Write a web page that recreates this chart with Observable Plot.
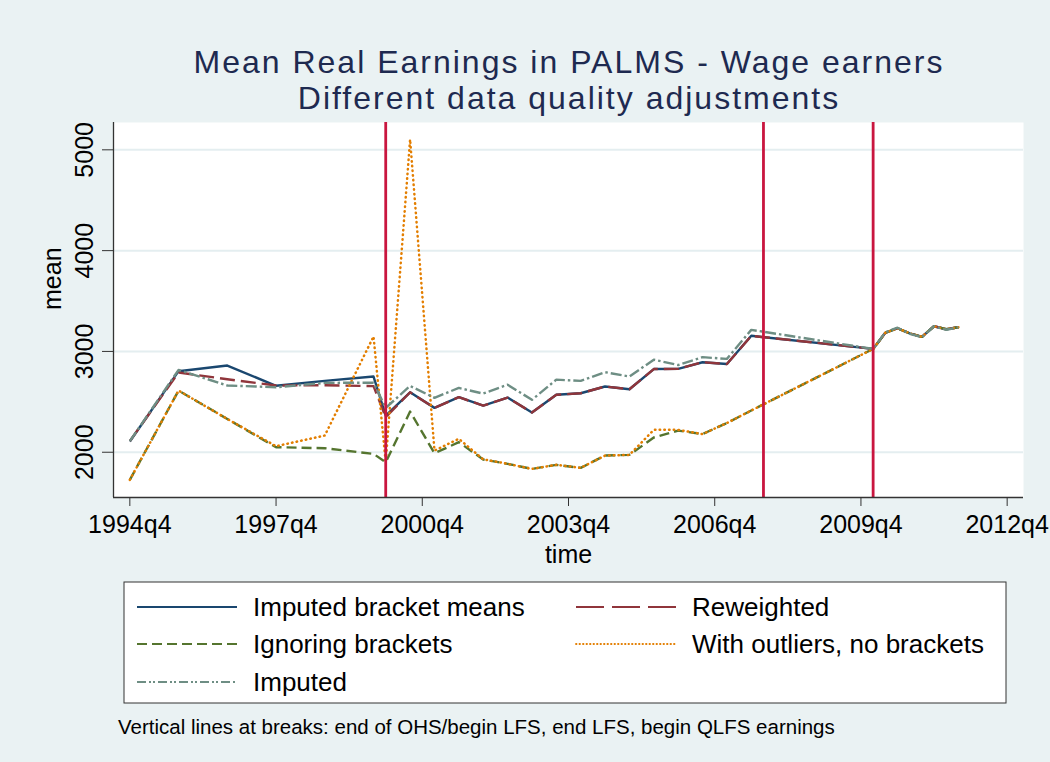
<!DOCTYPE html>
<html>
<head>
<meta charset="utf-8">
<script src="https://cdn.jsdelivr.net/npm/d3@7"></script>
<script src="https://cdn.jsdelivr.net/npm/@observablehq/plot@0.6"></script>
<style>
  html, body { margin: 0; padding: 0; background: #EAF2F3; }
  #wrap { position: relative; width: 1050px; height: 762px; overflow: hidden; background: #EAF2F3;
          font-family: "Liberation Sans", Arial, sans-serif; }
  .title { position: absolute; left: 0; width: 1138px; text-align: center; font-size: 32px;
           letter-spacing: 2px; line-height: 36px; color: #1E2A50; white-space: nowrap; }
  #plot { position: absolute; left: 0; top: 110px; }
  #legend { position: absolute; left: 0; top: 0; }
</style>
</head>
<body>
<div id="wrap">
  <div class="title" style="top:44px">Mean Real Earnings in PALMS - Wage earners</div>
  <div class="title" style="top:80px">Different data quality adjustments</div>
  <div id="plot"></div>
  <svg id="legend" width="1050" height="762"></svg>
</div>
<script>
// ---------------- data ----------------
const times = ["1994q4","1995q4","1996q4","1997q4","1998q4","1999q4","2000q1","2000q3","2001q1","2001q3",
               "2002q1","2002q3","2003q1","2003q3","2004q1","2004q3","2005q1","2005q3","2006q1","2006q3",
               "2007q1","2007q3","2010q1","2010q2","2010q3","2010q4","2011q1","2011q2","2011q3","2011q4"];

const imputedBracketMeans = [2106,2804,2860,2659,2708,2751,2364,2595,2440,2546,
                             2462,2542,2394,2570,2585,2652,2625,2825,2827,2893,
                             2875,3155,3025,3185,3230,3180,3145,3250,3220,3240];
const reweighted          = [2110,2791,2724,2662,2665,2656,2347,2595,2440,2546,
                             2462,2542,2394,2570,2585,2652,2625,2825,2827,2893,
                             2875,3155,3025,3185,3230,3180,3145,3250,3220,3240];
const ignoringBrackets    = [1726,2612,2330,2050,2040,1984,1900,2404,1990,2100,
                             1928,1885,1835,1875,1845,1967,1974,2146,2215,2180,
                             2290,2414,3025,3185,3230,3180,3145,3250,3220,3240];
const withOutliers        = [1726,2612,2330,2060,2166,3148,1900,5102,2017,2133,
                             1930,1885,1835,1875,1845,1967,1974,2222,2222,2180,
                             2290,2414,3025,3185,3230,3180,3145,3250,3220,3240];
const imputed             = [2110,2817,2662,2645,2688,2690,2440,2658,2540,2638,
                             2582,2670,2520,2720,2708,2794,2751,2918,2865,2943,
                             2926,3214,3025,3190,3235,3175,3140,3250,3215,3240];

const seriesNames = ["Imputed bracket means","Reweighted","Ignoring brackets","With outliers, no brackets","Imputed"];
const seriesValues = [imputedBracketMeans, reweighted, ignoringBrackets, withOutliers, imputed];

const breakTimes = ["2000q1","2007q4","2010q1"];
const xTickLabels = ["1994q4","1997q4","2000q4","2003q4","2006q4","2009q4","2012q4"];
const yTicks = [2000,3000,4000,5000];

const footnote = "Vertical lines at breaks: end of OHS/begin LFS, end LFS, begin QLFS earnings";

// ---------------- styles ----------------
const styles = {
  "Imputed bracket means":      {stroke:"#1A476F", dash:null,          legendDash:null,          width:2.4, cap:"butt"},
  "Reweighted":                 {stroke:"#90353B", dash:"15,6",        legendDash:"28,8",        width:2.4, cap:"butt"},
  "Ignoring brackets":          {stroke:"#55752F", dash:"10,5",        legendDash:"10,5",        width:2.4, cap:"butt"},
  "With outliers, no brackets": {stroke:"#E37E00", dash:"0.5,4.2",     legendDash:"0.5,3",       width:2.5, cap:"round"},
  "Imputed":                    {stroke:"#6E8E84", dash:"11,3,2.5,3",  legendDash:"9,3,2,2,2,3", width:2.4, cap:"butt"}
};

const parseQ = s => +s.slice(0,4) * 4 + (+s.slice(5)) - 1;
const fmtQ = i => `${Math.floor(i/4)}q${(i % 4) + 1}`;

const rows = [];
seriesNames.forEach((name, k) => {
  times.forEach((t, i) => rows.push({q: parseQ(t), v: seriesValues[k][i], s: name}));
});

const q0 = parseQ("1994q4");
const xDomain = [q0 - 1.34, q0 + 73.34];
const yDomain = [1551, 5271];

const lineMarks = seriesNames.map(name => {
  const st = styles[name];
  return Plot.line(rows.filter(d => d.s === name), {
    x: "q", y: "v", stroke: st.stroke, strokeWidth: st.width,
    strokeDasharray: st.dash, strokeLinecap: st.cap, strokeLinejoin: "round"
  });
});

const chart = Plot.plot({
  width: 1050, height: 460,
  marginTop: 12, marginBottom: 73, marginLeft: 113, marginRight: 27,
  style: {background: "transparent", fontFamily: "Liberation Sans, Arial, sans-serif", color: "#000", overflow: "visible"},
  x: {type: "linear", domain: xDomain},
  y: {type: "linear", domain: yDomain},
  marks: [
    Plot.frame({fill: "white", stroke: "none"}),
    Plot.gridY(yTicks, {stroke: "#E4EEF0", strokeOpacity: 1, strokeWidth: 2}),
    ...lineMarks,
    Plot.ruleX(breakTimes.map(parseQ), {stroke: "#C9163F", strokeWidth: 2.8}),
    Plot.ruleX([xDomain[0]], {stroke: "#333", strokeWidth: 1.3}),
    Plot.ruleY([yDomain[0]], {stroke: "#333", strokeWidth: 1.3}),
    Plot.axisX(xTickLabels.map(parseQ), {tickFormat: fmtQ, tickSize: 9, tickPadding: 9, fontSize: 25, label: null, stroke: "#333"}),
    Plot.axisY(yTicks, {tickFormat: d => String(d), tickSize: 11, tickPadding: 10, tickRotate: -90, fontSize: 25, label: null, stroke: "#333"}),
    Plot.text(["time"], {frameAnchor: "bottom", lineAnchor: "middle", dy: 57, fontSize: 25, fill: "#000"}),
    Plot.text(["mean"], {frameAnchor: "left", lineAnchor: "middle", dx: -61, rotate: -90, fontSize: 25, fill: "#000"})
  ]
});
document.getElementById("plot").appendChild(chart);

// ---------------- legend + footnote ----------------
const svg = d3.select("#legend");
svg.append("rect").attr("x", 124).attr("y", 582).attr("width", 882).attr("height", 121)
   .attr("fill", "white").attr("stroke", "#333").attr("stroke-width", 1);

const legendItems = [
  {name: "Imputed bracket means", col: 0, row: 0},
  {name: "Reweighted", col: 1, row: 0},
  {name: "Ignoring brackets", col: 0, row: 1},
  {name: "With outliers, no brackets", col: 1, row: 1},
  {name: "Imputed", col: 0, row: 2}
];
const colX = [137, 576];
const rowY = [607, 644, 682];
legendItems.forEach(it => {
  const st = styles[it.name];
  const x = colX[it.col], y = rowY[it.row];
  svg.append("line").attr("x1", x).attr("x2", x + 100).attr("y1", y).attr("y2", y)
     .attr("stroke", st.stroke).attr("stroke-width", it.name.startsWith("With") ? 1.8 : 2.2)
     .attr("stroke-dasharray", st.legendDash).attr("stroke-linecap", st.cap);
  svg.append("text").attr("x", x + 116).attr("y", y + 9.3)
     .attr("font-size", 26).attr("font-family", "Liberation Sans, Arial, sans-serif")
     .attr("fill", "#000").text(it.name);
});
svg.append("text").attr("x", 118).attr("y", 734)
   .attr("font-size", 20.5).attr("font-family", "Liberation Sans, Arial, sans-serif")
   .attr("fill", "#000").text(footnote);
</script>
</body>
</html>
